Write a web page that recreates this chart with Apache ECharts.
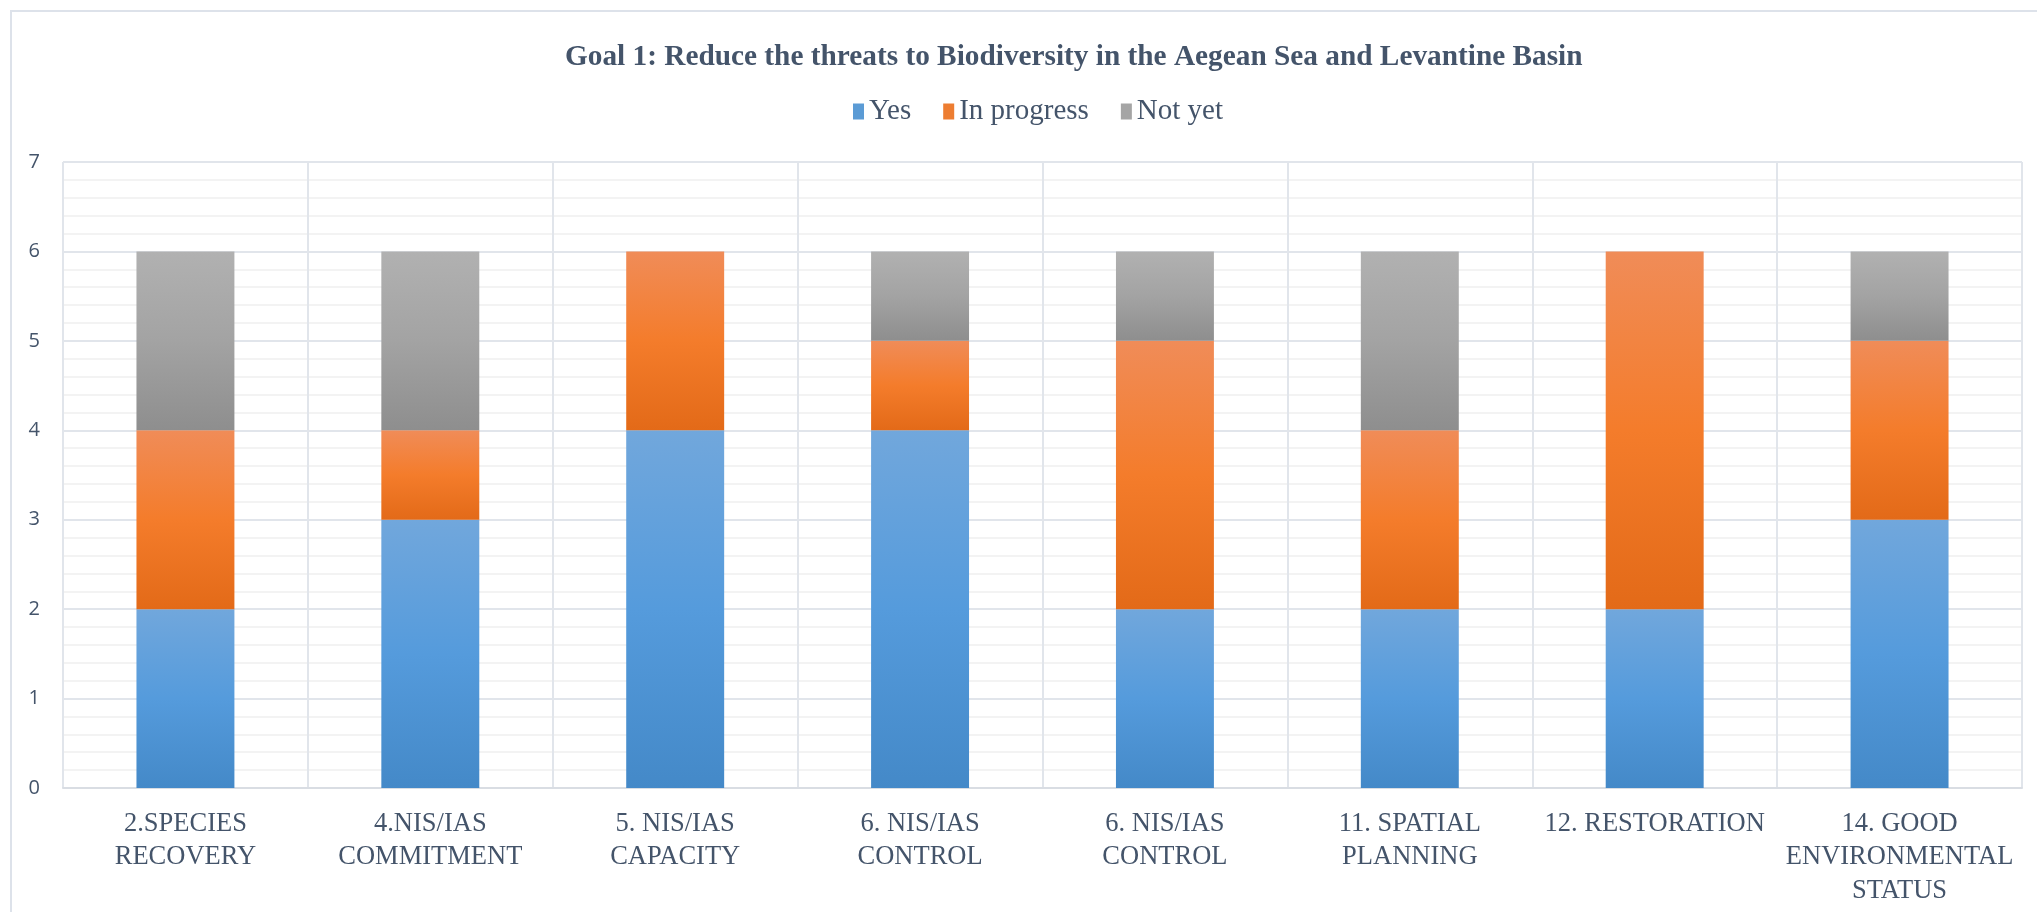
<!DOCTYPE html>
<html>
<head>
<meta charset="utf-8">
<script src="https://cdn.jsdelivr.net/npm/echarts@6/dist/echarts.min.js"></script>
<style>
html,body{margin:0;padding:0;background:#fff;}
#chart{width:2037px;height:912px;}
</style>
</head>
<body>
<div id="chart"></div>
<script>
const titleText = 'Goal 1: Reduce the threats to Biodiversity in the Aegean Sea and Levantine Basin';
const categories = [
  '2.SPECIES\nRECOVERY',
  '4.NIS/IAS\nCOMMITMENT',
  '5. NIS/IAS\nCAPACITY',
  '6. NIS/IAS\nCONTROL',
  '6. NIS/IAS\nCONTROL',
  '11. SPATIAL\nPLANNING',
  '12. RESTORATION',
  '14. GOOD\nENVIRONMENTAL\nSTATUS'
];
const seriesNames = ['Yes', 'In progress', 'Not yet'];
const yesValues = [2, 3, 4, 4, 2, 2, 2, 3];
const inProgressValues = [2, 1, 2, 1, 3, 2, 4, 2];
const notYetValues = [2, 2, 0, 1, 1, 2, 0, 1];
const yTicks = [0, 1, 2, 3, 4, 5, 6, 7];

const chart = echarts.init(document.getElementById('chart'));
function grad(top, mid, bottom) {
  return new echarts.graphic.LinearGradient(0, 0, 0, 1, [
    {offset: 0, color: top},
    {offset: 0.5, color: mid},
    {offset: 1, color: bottom}
  ]);
}
const colors = [
  grad('#71a7dc', '#559bdc', '#4489c8'),
  grad('#f08c58', '#f47c2b', '#e36a18'),
  grad('#b1b1b1', '#a3a3a3', '#8e8e8e')
];
const legendColors = ['#5b9bd5', '#ed7d31', '#a5a5a5'];
const textColor = '#44546a';
const serif = '"Liberation Serif", "Times New Roman", serif';

const valuesList = [yesValues, inProgressValues, notYetValues];
const series = seriesNames.map((name, i) => ({
  name: name,
  type: 'bar',
  stack: 'total',
  barWidth: '40%',
  data: valuesList[i].map(v => v === 0 ? null : v),
  itemStyle: {color: colors[i]},
  emphasis: {disabled: true}
}));

chart.setOption({
  animation: false,
  graphic: [{
    type: 'rect',
    shape: {x: 11, y: 11, width: 2100, height: 1000},
    style: {fill: 'none', stroke: '#dde2ea', lineWidth: 2},
    silent: true
  }],
  title: {
    text: titleText,
    left: 560,
    top: 38,
    textStyle: {fontFamily: serif, fontSize: 29.3, fontWeight: 'bold', color: textColor}
  },
  legend: {
    top: 92,
    left: 848,
    itemWidth: 11,
    itemHeight: 16,
    itemGap: 32,
    icon: 'rect',
    textStyle: {fontFamily: serif, fontSize: 29, color: textColor},
    data: seriesNames.map((n, i) => ({name: n, itemStyle: {color: legendColors[i]}}))
  },
  grid: {left: 63, right: 15, top: 162, bottom: 124, containLabel: false},
  xAxis: {
    type: 'category',
    data: categories,
    axisTick: {show: false},
    axisLine: {show: true, lineStyle: {color: '#d9dde3', width: 2}},
    axisLabel: {
      interval: 0,
      margin: 19,
      fontFamily: serif,
      fontSize: 26.5,
      lineHeight: 33.5,
      color: textColor
    },
    splitLine: {show: true, lineStyle: {color: '#e1e5eb', width: 2}}
  },
  yAxis: {
    type: 'value',
    min: yTicks[0],
    max: yTicks[yTicks.length - 1],
    interval: 1,
    axisLine: {show: false},
    axisTick: {show: false},
    axisLabel: {
      margin: 23,
      fontFamily: '"Open Sans", "Noto Sans", sans-serif',
      fontSize: 20,
      color: textColor
    },
    splitLine: {show: true, lineStyle: {color: '#e1e5eb', width: 2}},
    minorTick: {show: false, splitNumber: 5},
    minorSplitLine: {show: true, lineStyle: {color: '#f3f3f3', width: 2}}
  },
  series: series
});
</script>
</body>
</html>
